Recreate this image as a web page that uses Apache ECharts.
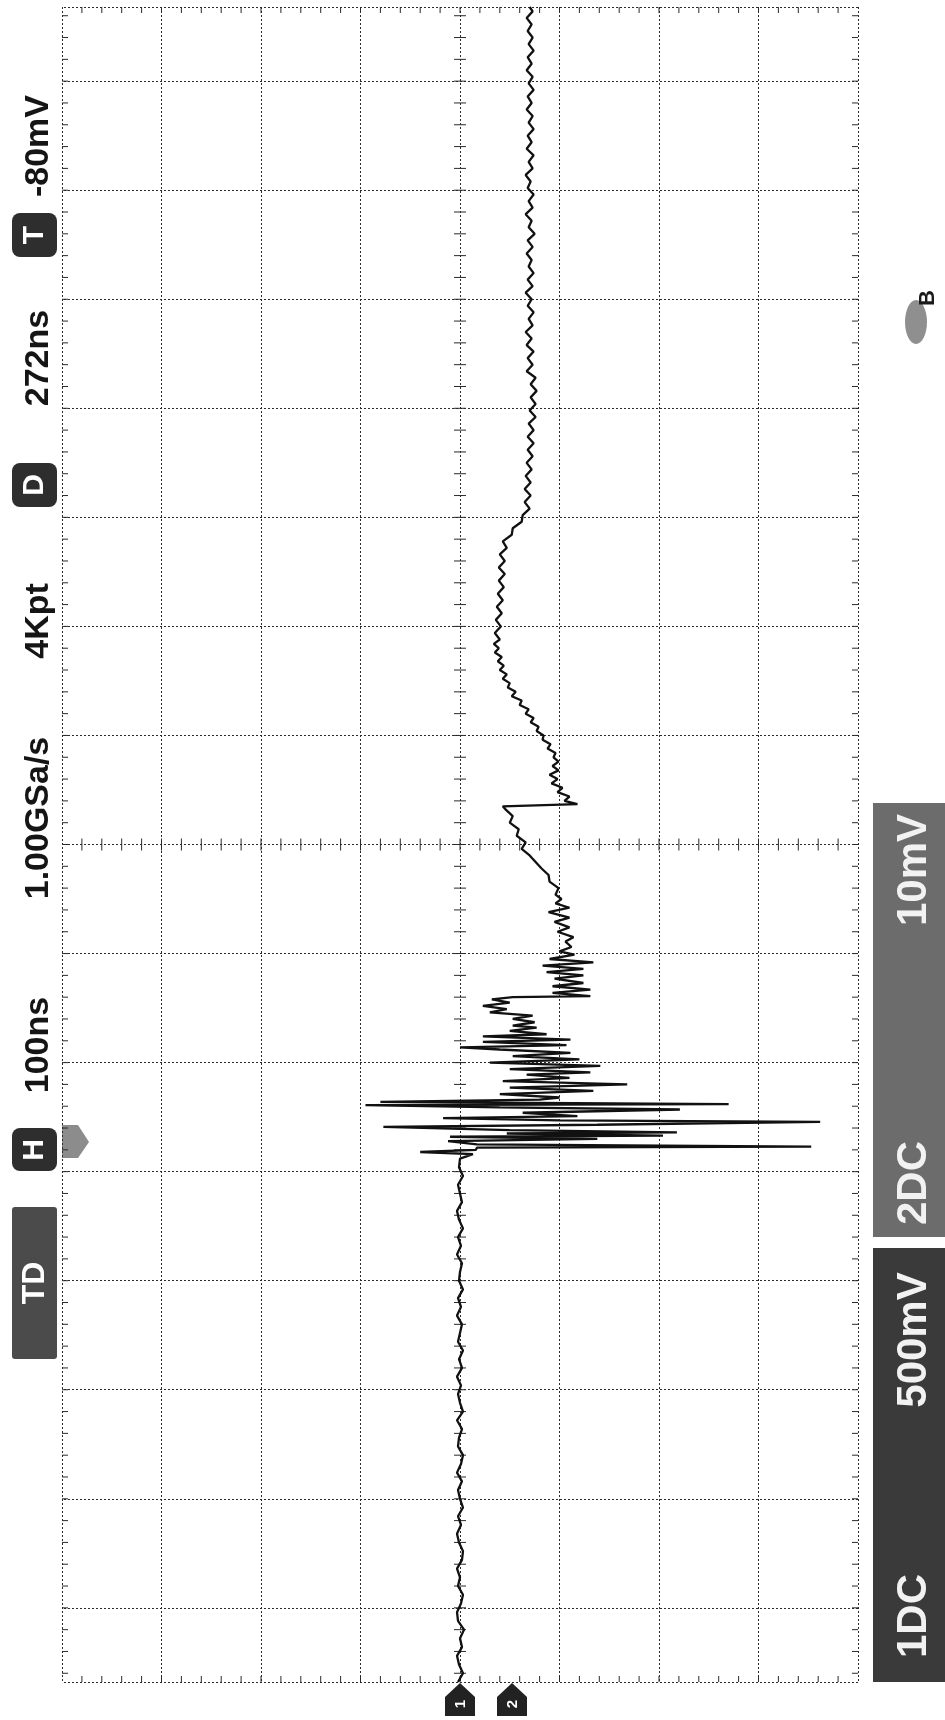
<!DOCTYPE html>
<html>
<head>
<meta charset="utf-8">
<script src="https://cdn.jsdelivr.net/npm/echarts@6/dist/echarts.min.js"></script>
<style>
html,body{margin:0;padding:0;background:#fff;}
#chart{width:945px;height:1720px;}
</style>
</head>
<body>
<div id="chart"></div>
<script>
// ---- data: [time ns (relative to trigger), voltage mV] ----
const preTrigger = [[-496,0.2],[-488,-0.3],[-480,0.1],[-472,0.3],[-464,-0.2],[-456,0.0],[-448,-0.4],[-440,0.2],[-432,0.3],[-424,-0.1],[-416,-0.3],[-408,0.2],[-400,0.0],[-392,0.3],[-384,-0.2],[-376,-0.3],[-368,0.1],[-360,0.3],[-352,-0.1],[-344,0.2],[-336,-0.3],[-328,0.0],[-320,0.2],[-312,-0.2],[-304,0.3],[-296,-0.1],[-288,-0.3],[-280,0.2],[-272,0.1],[-264,-0.2],[-256,0.3],[-248,-0.3],[-240,0.0],[-232,0.2],[-224,-0.1],[-216,0.3],[-208,-0.2],[-200,0.1],[-192,-0.3],[-184,0.2],[-176,0.0],[-168,-0.2],[-160,0.3],[-152,-0.1],[-144,0.2],[-136,-0.3],[-128,0.1],[-120,0.0],[-112,-0.2],[-104,0.3],[-96,-0.1],[-88,0.2],[-80,-0.3],[-72,0.1],[-64,0.3],[-56,-0.2],[-48,0.0],[-40,0.2],[-32,-0.3],[-24,0.1],[-16,0.0]];
const burst = [[-12,-1.3],[-10,4.0],[-8,-1.6],[-6,-1.7],[-5,-35.3],[-3,-1.7],[0,1.2],[2,-13.8],[4,1.0],[5,-20.4],[7,-4.7],[8,-21.8],[10,-5.0],[13,7.7],[15,-13.8],[17.6,-36.2],[19,-10.0],[21,1.7],[23,-11.8],[26,-6.3],[29,-22.1],[31,-4.0],[33,9.5],[34,-27.0],[36,8.0],[38,-8.0],[40,-10.0],[43,-4.0],[46,-13.4],[49,-5.0],[52,-16.8],[55,-4.3],[58,-11.0],[61,-6.7],[63,-13.1],[66,-5.0],[69,-14.1],[72,-3.0],[75,-12.0],[78,-5.3],[81,-11.1],[84,-4.0],[86,0.0],[88,-10.7],[91,-2.3],[93,-11.1],[96,-2.3],[98,-8.7],[101,-5.0],[104,-7.7],[106,-5.3],[109,-7.5],[112,-5.3],[115,-7.3],[118,-3.0],[121,-4.7],[124,-2.3],[127,-5.0],[130,-3.2],[132,-5.3],[133,-13.1],[136,-9.3],[139,-13.1],[142,-9.3],[145,-12.4],[149,-9.5],[152,-12.4],[155,-8.7],[158,-12.4],[161,-8.3],[164,-13.4],[167,-9.0],[171,-11.5],[174,-10.0],[178,-11.2],[183,-10.6],[187,-11.4],[192,-9.8],[196,-11.0],[201,-9.5],[205,-11.0],[210,-8.9],[214,-11.0],[218,-9.6],[222,-10.2]];
const recovery = [[226,-9.6],[232,-9.9],[238,-9.0],[244,-8.9],[250,-8.2],[256,-7.6],[262,-7.0],[268,-6.2],[274,-6.6],[280,-5.7],[286,-5.9],[292,-5.0],[298,-5.3],[304,-4.6],[307,-4.3],[309,-11.8],[312,-10.5],[316,-11.0],[320,-9.8],[324,-10.3],[328,-9.2],[332,-9.8],[336,-9.0],[340,-9.9],[344,-9.3],[348,-9.9],[352,-9.4],[356,-9.6],[360,-8.8],[364,-9.1],[368,-8.3],[372,-8.4],[376,-7.7],[380,-7.9],[384,-7.1],[388,-7.4],[392,-6.6],[396,-6.9],[400,-6.0],[404,-6.2],[408,-5.2],[412,-5.6],[416,-4.8],[420,-5.0],[424,-4.3],[428,-4.7],[432,-4.0],[436,-4.4],[440,-3.8],[444,-4.2],[448,-3.5],[452,-3.9],[456,-3.4],[460,-4.0],[466,-3.5],[472,-4.1],[478,-3.6],[484,-4.2],[490,-3.7],[496,-4.3],[502,-3.8],[508,-4.4],[514,-3.9],[520,-4.5],[526,-3.9],[532,-4.5],[538,-4.0],[544,-4.7],[550,-4.3],[556,-5.2],[562,-5.3],[568,-6.2],[574,-6.3],[580,-7.0],[586,-6.5],[592,-7.1],[598,-6.5],[604,-7.1],[610,-6.6],[616,-7.2],[622,-6.7],[628,-7.3],[634,-6.8],[640,-7.4],[646,-6.8],[652,-7.4],[658,-6.9],[664,-7.6],[670,-7.0],[676,-7.6],[682,-7.1],[688,-7.7],[694,-7.1],[700,-7.6]];
const settled = [[706,-6.7],[712,-7.3],[718,-6.8],[724,-7.4],[730,-6.7],[736,-7.2],[742,-6.6],[748,-7.3],[754,-6.9],[760,-7.4],[766,-6.8],[772,-7.2],[778,-6.6],[784,-7.3],[790,-6.8],[796,-7.4],[802,-6.9],[808,-7.2],[814,-6.7],[820,-7.3],[826,-6.8],[832,-7.5],[838,-6.9],[844,-7.2],[850,-6.6],[856,-7.3],[862,-6.9],[868,-7.4],[874,-6.8],[880,-7.1],[886,-6.6],[892,-7.3],[898,-6.9],[904,-7.4],[910,-6.7],[916,-7.2],[922,-6.8],[928,-7.4],[934,-6.9],[940,-7.3],[946,-6.7],[952,-7.2],[958,-6.8],[964,-7.4],[970,-6.9],[976,-7.3],[982,-6.7],[988,-7.2],[994,-6.8],[1000,-7.4],[1006,-6.9],[1012,-7.3],[1018,-6.8],[1024,-7.2],[1030,-6.7],[1036,-7.3],[1040,-7.0]];

// axes (oscilloscope divisions: 10 mV/div, 100 ns/div, screen centre at +272 ns)
const TIME_MIN = -496, TIME_MAX = 1040, TIME_CENTER = 272, TIME_DIV = 100;
const VOLT_MIN = -40, VOLT_MAX = 40, VOLT_DIV = 10;
const timeGridLines = [-428,-328,-228,-128,-28,72,172,272,372,472,572,672,772,872,972];

// header / footer texts
const leftTexts = ['100ns', '1.00GSa/s', '4Kpt', '272ns', '-80mV'];
const leftBoxes = ['TD', 'H', 'D', 'T'];
const channelTexts = [['1DC', '500mV'], ['2DC', '10mV']];

// ---- build ----
const trace = [].concat(preTrigger, burst, recovery, settled).map(p => [p[1], p[0]]);

const timeMinor = [];
for (let t = TIME_CENTER - 38 * TIME_DIV / 5; t <= TIME_MAX; t += TIME_DIV / 5) {
  if (t >= TIME_MIN) timeMinor.push([t]);
}
const voltMinor = [];
for (let v = VOLT_MIN + VOLT_DIV / 5; v < VOLT_MAX; v += VOLT_DIV / 5) voltMinor.push([Math.round(v * 10) / 10]);

const gridStyle = { color: '#2a2a2a', type: [2, 2], width: 1 };
const tickStyle = { stroke: '#2a2a2a', lineWidth: 1 };
const FONT = '"Liberation Sans", Arial, sans-serif';

function rotText(txt, x, y, size, fill, weight) {
  return { type: 'text', x: x, y: y, rotation: Math.PI / 2, z: 10,
    style: { text: txt, fill: fill, font: (weight || 'bold') + ' ' + size + 'px ' + FONT, align: 'center', verticalAlign: 'middle' } };
}

const chart = echarts.init(document.getElementById('chart'), null, { renderer: 'canvas' });
chart.setOption({
  backgroundColor: '#ffffff',
  animation: false,
  grid: { left: 62, right: 87, top: 7, bottom: 38, containLabel: false },
  xAxis: {
    type: 'value', min: VOLT_MIN, max: VOLT_MAX, interval: VOLT_DIV, inverse: true,
    axisLine: { show: false }, axisTick: { show: false }, axisLabel: { show: false },
    splitLine: { show: true, lineStyle: gridStyle }
  },
  yAxis: {
    type: 'value', min: TIME_MIN, max: TIME_MAX,
    axisLine: { show: false }, axisTick: { show: false }, axisLabel: { show: false },
    splitLine: { show: false }
  },
  series: [
    {
      type: 'custom', name: 'timeTicks', silent: true, data: timeMinor, z: 2,
      renderItem: function (params, api) {
        const t = api.value(0);
        const c = api.coord([0, t]);
        const l = api.coord([VOLT_MAX, t]);
        const r = api.coord([VOLT_MIN, t]);
        return { type: 'group', children: [
          { type: 'line', shape: { x1: c[0] - 6, y1: c[1], x2: c[0] + 6, y2: c[1] }, style: tickStyle },
          { type: 'line', shape: { x1: l[0], y1: l[1], x2: l[0] + 6, y2: l[1] }, style: tickStyle },
          { type: 'line', shape: { x1: r[0] - 6, y1: r[1], x2: r[0], y2: r[1] }, style: tickStyle }
        ] };
      }
    },
    {
      type: 'custom', name: 'voltTicks', silent: true, data: voltMinor, z: 2,
      renderItem: function (params, api) {
        const v = api.value(0);
        const c = api.coord([v, TIME_CENTER]);
        const tp = api.coord([v, TIME_MAX]);
        const bt = api.coord([v, TIME_MIN]);
        return { type: 'group', children: [
          { type: 'line', shape: { x1: c[0], y1: c[1] - 6, x2: c[0], y2: c[1] + 6 }, style: tickStyle },
          { type: 'line', shape: { x1: tp[0], y1: tp[1], x2: tp[0], y2: tp[1] + 6 }, style: tickStyle },
          { type: 'line', shape: { x1: bt[0], y1: bt[1] - 6, x2: bt[0], y2: bt[1] }, style: tickStyle }
        ] };
      }
    },
    {
      type: 'line', name: 'CH', data: trace, showSymbol: false, symbol: 'none', z: 5,
      lineStyle: { color: '#111111', width: 2.3 },
      markLine: {
        silent: true, symbol: ['none', 'none'], label: { show: false },
        lineStyle: gridStyle, animation: false,
        data: timeGridLines.concat([TIME_MIN, TIME_MAX]).map(t => ({ yAxis: t }))
      }
    }
  ],
  graphic: { elements: [
    // left column
    { type: 'rect', shape: { x: 12, y: 1207, width: 45, height: 152, r: 3 }, style: { fill: '#4b4b4b' } },
    rotText(leftBoxes[0], 35, 1283, 32, '#ffffff'),
    { type: 'rect', shape: { x: 12, y: 1128, width: 45, height: 43, r: 8 }, style: { fill: '#2e2e2e' } },
    rotText(leftBoxes[1], 35, 1150, 30, '#ffffff'),
    rotText(leftTexts[0], 39, 1045, 34, '#151515'),
    rotText(leftTexts[1], 39, 818, 34, '#151515'),
    rotText(leftTexts[2], 39, 621, 34, '#151515'),
    { type: 'rect', shape: { x: 12, y: 463, width: 45, height: 44, r: 8 }, style: { fill: '#2e2e2e' } },
    rotText(leftBoxes[2], 35, 485, 30, '#ffffff'),
    rotText(leftTexts[3], 39, 358, 34, '#151515'),
    { type: 'rect', shape: { x: 12, y: 213, width: 45, height: 44, r: 8 }, style: { fill: '#2e2e2e' } },
    rotText(leftBoxes[3], 35, 235, 30, '#ffffff'),
    rotText(leftTexts[4], 39, 146, 34, '#151515'),
    // trigger position marker
    { type: 'polygon', shape: { points: [[62, 1125], [78, 1125], [89, 1142], [78, 1158], [62, 1158]] }, style: { fill: '#8c8c8c' } },
    // channel boxes (right)
    { type: 'rect', shape: { x: 873, y: 803, width: 80, height: 434 }, style: { fill: '#6c6c6c' } },
    rotText(channelTexts[1][0], 914, 1183, 42, '#f2f2f2'),
    rotText(channelTexts[1][1], 914, 870, 42, '#f2f2f2'),
    { type: 'rect', shape: { x: 873, y: 1248, width: 80, height: 434 }, style: { fill: '#3a3a3a' } },
    rotText(channelTexts[0][0], 914, 1616, 42, '#f2f2f2'),
    rotText(channelTexts[0][1], 914, 1340, 42, '#f2f2f2'),
    // status icon
    { type: 'ellipse', shape: { cx: 916, cy: 322, rx: 11, ry: 22 }, style: { fill: '#8f8f8f' } },
    rotText('B', 928, 298, 22, '#1a1a1a'),
    // channel ground markers (bottom)
    { type: 'polygon', shape: { points: [[445, 1716], [445, 1697], [460, 1683], [475, 1697], [475, 1716]] }, style: { fill: '#222222' } },
    rotText('1', 461, 1704, 15, '#ffffff'),
    { type: 'polygon', shape: { points: [[497, 1716], [497, 1697], [512, 1683], [527, 1697], [527, 1716]] }, style: { fill: '#222222' } },
    rotText('2', 513, 1704, 15, '#ffffff')
  ] }
});
</script>
</body>
</html>
